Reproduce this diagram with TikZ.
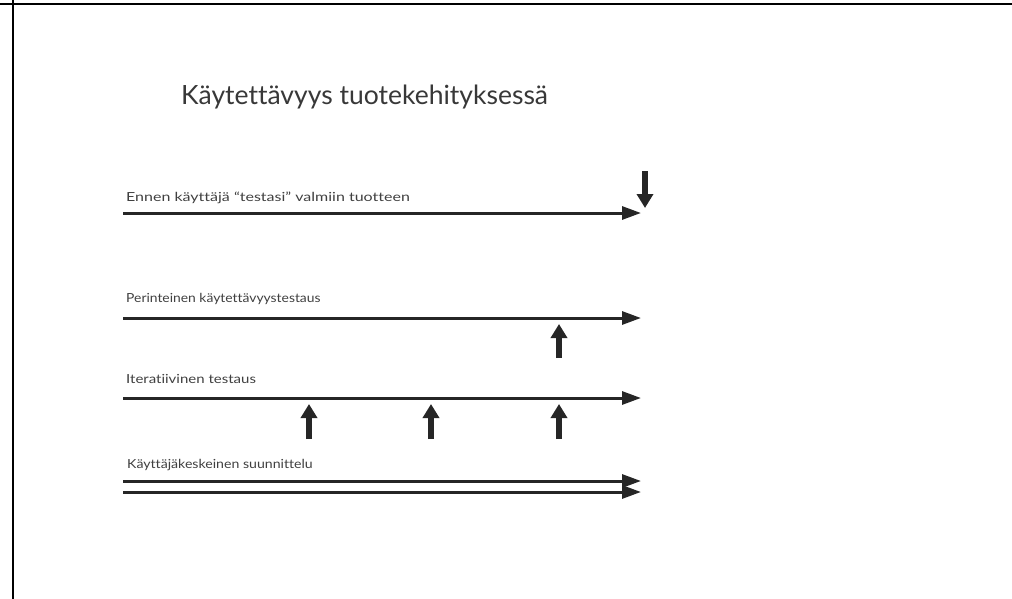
\documentclass[tikz,border=0pt]{standalone}
\usepackage{fontspec}
\setmainfont{Lato}[Ligatures=NoCommon]
\usetikzlibrary{arrows.meta}
\newcommand{\widetext}[2][1.17]{\scalebox{#1}[1]{#2}}
\begin{document}
\begin{tikzpicture}[x=1pt,y=-1pt,
  lbl/.style={anchor=base west, inner sep=0pt, font=\fontsize{12.5}{14}\selectfont, text=black!75},
  ttl/.style={anchor=base west, inner sep=0pt, font=\fontsize{26.5}{30}\selectfont, text=black!78},
  timeline/.style={line width=3pt, draw=black!85, -{Triangle[length=19pt,width=13pt]}},
  marker/.style={line width=6.5pt, draw=black!85, -{Triangle[length=14pt,width=16pt]}},
  frame/.style={line width=2pt, draw=black}]
\useasboundingbox (0,0) rectangle (1012,599);
% frame
\draw[frame] (0,4.5) -- (1012,4.5);
\draw[frame] (13,0) -- (13,599);
% title
\node[ttl] (title) at (181,105) {Käytettävyys tuotekehityksessä};
% row 1
\node[lbl] (l1) at (126,201) {\widetext[1.28]{Ennen käyttäjä “testasi” valmiin tuotteen}};
\coordinate (a1s) at (123,213); \coordinate (a1e) at (641,213);
\draw[timeline] (a1s) -- (a1e);
\coordinate (d1s) at (645,171); \coordinate (d1e) at (645,208);
\draw[marker] (d1s) -- (d1e);
% row 2
\node[lbl] (l2) at (126,302) {\widetext[1.11]{Perinteinen käytettävyystestaus}};
\coordinate (a2s) at (123,318); \coordinate (a2e) at (641,318);
\draw[timeline] (a2s) -- (a2e);
\coordinate (u2s) at (559,358); \coordinate (u2e) at (559,324);
\draw[marker] (u2s) -- (u2e);
% row 3
\node[lbl] (l3) at (126,383) {\widetext[1.2]{Iteratiivinen testaus}};
\coordinate (a3s) at (123,398); \coordinate (a3e) at (641,398);
\draw[timeline] (a3s) -- (a3e);
\coordinate (u3as) at (309,439); \coordinate (u3ae) at (309,404);
\coordinate (u3bs) at (431,439); \coordinate (u3be) at (431,404);
\coordinate (u3cs) at (559,439); \coordinate (u3ce) at (559,404);
\draw[marker] (u3as) -- (u3ae);
\draw[marker] (u3bs) -- (u3be);
\draw[marker] (u3cs) -- (u3ce);
% row 4
\node[lbl] (l4) at (127,468) {\widetext[1.13]{Käyttäjäkeskeinen suunnittelu}};
\coordinate (a4s) at (123,481); \coordinate (a4e) at (641,481);
\coordinate (a5s) at (123,492); \coordinate (a5e) at (641,492);
\draw[timeline] (a4s) -- (a4e);
\draw[timeline] (a5s) -- (a5e);
\end{tikzpicture}
\end{document}
